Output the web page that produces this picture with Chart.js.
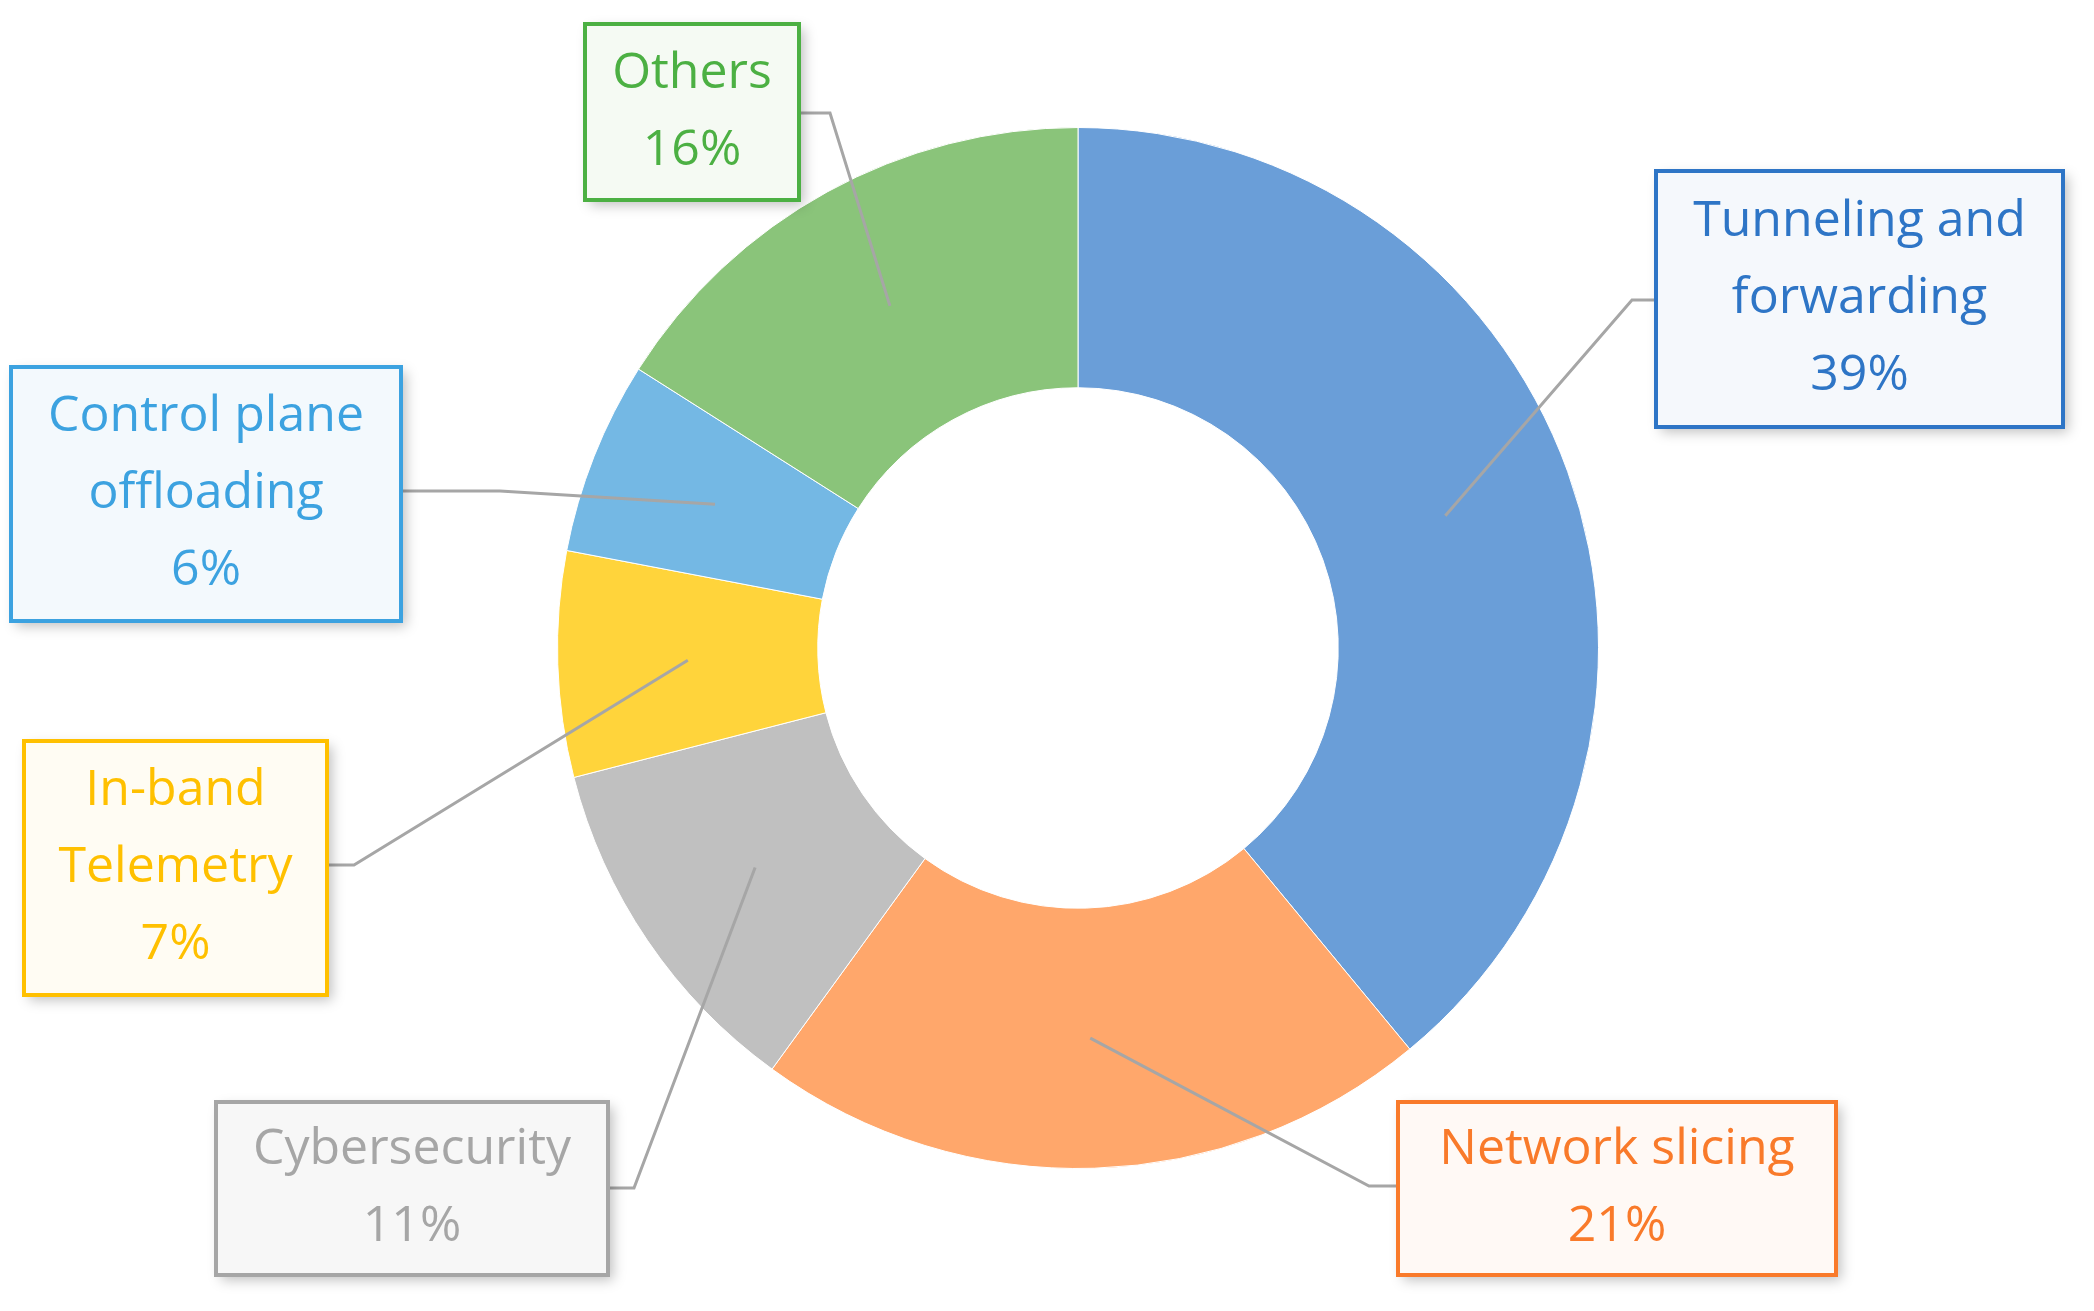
<!DOCTYPE html>
<html>
<head>
<meta charset="utf-8">
<script src="https://cdn.jsdelivr.net/npm/chart.js@4"></script>
<style>
  html, body { margin: 0; padding: 0; background: #fff; }
  #wrap { width: 2094px; height: 1311px; }
</style>
</head>
<body>
<div id="wrap"><canvas id="chart"></canvas></div>
<script>
// data
const categories = ["Tunneling and forwarding", "Network slicing", "Cybersecurity", "In-band Telemetry", "Control plane offloading", "Others"];
const shares = [39, 21, 11, 7, 6, 16];
const labelLines = [["Tunneling and", "forwarding"], ["Network slicing"], ["Cybersecurity"], ["In-band", "Telemetry"], ["Control plane", "offloading"], ["Others"]];

const sliceColors = ["#6A9ED8", "#FFA76B", "#C0C0C0", "#FFD43B", "#74B8E4", "#8AC47A"];
const textColors = ["#2E75C6", "#F97A2A", "#A6A6A6", "#FFC000", "#3CA2E0", "#4CB043"];
const boxFill = ["#F5F8FC", "#FFF9F5", "#F7F7F7", "#FFFCF3", "#F3F9FD", "#F5FAF3"];

// callout boxes [x, y, w, h] and elbow point, in page pixels
const boxes = [
  [1656, 171, 407, 256], [1398, 1102, 438, 173], [216, 1102, 392, 173],
  [24, 741, 303, 254], [11, 367, 390, 254], [585, 24, 214, 176]
];
const elbows = [[1632, 300], [1369, 1186], [634, 1188], [354, 865], [500, 491], [830, 113]];
const attach = [[1656, 300], [1398, 1186], [608, 1188], [327, 865], [401, 491], [799, 113]];

const calloutPlugin = {
  id: "callouts",
  afterDatasetsDraw(chart) {
    const ctx = chart.ctx;
    const arcs = chart.getDatasetMeta(0).data;
    arcs.forEach((arc, i) => {
      const mid = (arc.startAngle + arc.endAngle) / 2;
      const r = (arc.innerRadius + arc.outerRadius) / 2;
      const px = arc.x + Math.cos(mid) * r;
      const py = arc.y + Math.sin(mid) * r;

      // leader line
      ctx.save();
      ctx.strokeStyle = "#A6A6A6";
      ctx.lineWidth = 3;
      ctx.beginPath();
      ctx.moveTo(px, py);
      ctx.lineTo(elbows[i][0], elbows[i][1]);
      ctx.lineTo(attach[i][0], attach[i][1]);
      ctx.stroke();
      ctx.restore();

      // box
      const [bx, by, bw, bh] = boxes[i];
      ctx.save();
      ctx.shadowColor = "rgba(0,0,0,0.25)";
      ctx.shadowBlur = 12;
      ctx.shadowOffsetX = 5;
      ctx.shadowOffsetY = 5;
      ctx.fillStyle = boxFill[i];
      ctx.fillRect(bx, by, bw, bh);
      ctx.restore();
      ctx.save();
      ctx.strokeStyle = textColors[i];
      ctx.lineWidth = 4;
      ctx.strokeRect(bx, by, bw, bh);

      // text
      const lines = labelLines[i].concat([shares[i] + "%"]);
      ctx.fillStyle = textColors[i];
      ctx.font = "50px 'Open Sans', sans-serif";
      ctx.textAlign = "center";
      ctx.textBaseline = "middle";
      const lh = 77;
      const cy = by + bh / 2 - (lines.length - 1) * lh / 2;
      lines.forEach((t, k) => ctx.fillText(t, bx + bw / 2, cy + k * lh));
      ctx.restore();
    });
  }
};

new Chart(document.getElementById("chart"), {
  type: "doughnut",
  data: {
    labels: categories,
    datasets: [{
      data: shares,
      backgroundColor: sliceColors,
      borderColor: "#ffffff",
      borderWidth: 1
    }]
  },
  options: {
    responsive: true,
    maintainAspectRatio: false,
    animation: false,
    cutout: "50%",
    layout: { padding: { left: 557, right: 495, top: 127, bottom: 142 } },
    plugins: { legend: { display: false }, tooltip: { enabled: false } }
  },
  plugins: [calloutPlugin]
});
</script>
</body>
</html>
